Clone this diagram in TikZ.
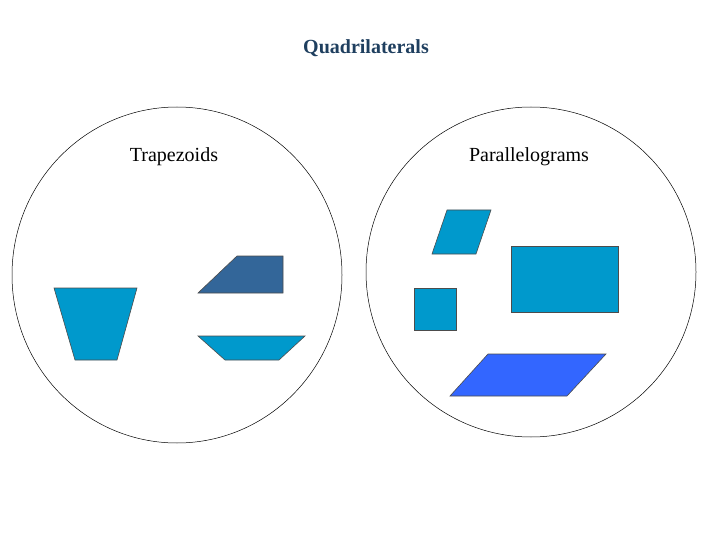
\documentclass[tikz,border=0pt]{standalone}
\usepackage{fontspec}
\setmainfont{Liberation Serif}
\begin{document}
\begin{tikzpicture}[x=1pt,y=-1pt,
  circ/.style={draw=black,line width=0.5pt},
  shp/.style={draw=black!70,line width=0.6pt},
  lbl/.style={font=\fontsize{20}{24}\selectfont}]
\definecolor{cy}{HTML}{0099CC}
\definecolor{dk}{HTML}{336699}
\definecolor{bl}{HTML}{3366FF}
\definecolor{tt}{HTML}{1F3F5F}
\useasboundingbox (0,0) rectangle (720,540);
\node[lbl,font=\fontsize{20}{24}\selectfont\bfseries,text=tt] (title) at (366,48) {Quadrilaterals};
\draw[circ] (177,275) ellipse [x radius=165, y radius=168];
\draw[circ] (531,272) ellipse [x radius=165, y radius=165];
\node[lbl] (trap) at (174,157) {Trapezoids};
\node[lbl] (par) at (529,157) {Parallelograms};
\filldraw[shp,fill=cy] (54,288)--(137,288)--(117,360)--(75,360)--cycle;
\filldraw[shp,fill=dk] (237,256)--(283,256)--(283,293)--(198,293)--cycle;
\filldraw[shp,fill=cy] (198,336)--(305,336)--(279,360)--(225,360)--cycle;
\filldraw[shp,fill=cy] (447,210)--(491,210)--(476,254)--(432,254)--cycle;
\filldraw[shp,fill=cy] (511,246) rectangle (618,312);
\filldraw[shp,fill=cy] (414,288) rectangle (456,330);
\filldraw[shp,fill=bl] (488,354)--(606,354)--(567,396)--(450,396)--cycle;
\end{tikzpicture}
\end{document}
